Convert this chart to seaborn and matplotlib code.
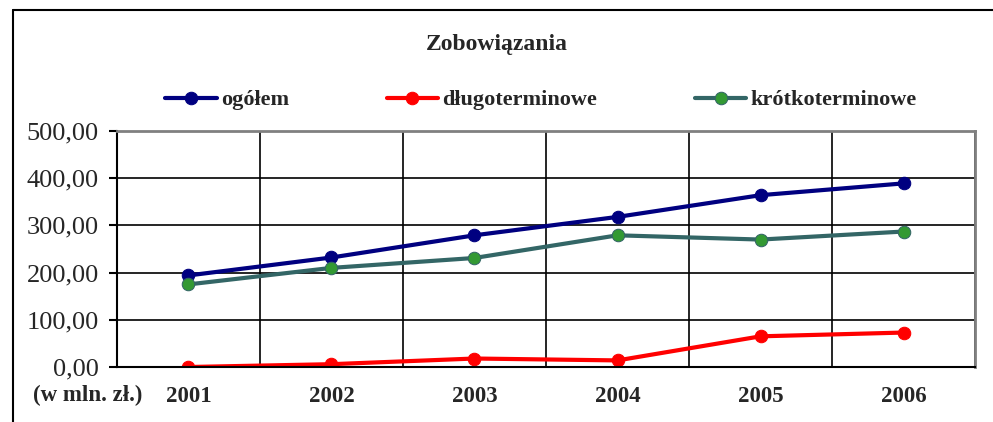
import pandas as pd
import numpy as np
import seaborn as sns
import matplotlib.pyplot as plt
from matplotlib.lines import Line2D
from matplotlib.ticker import FuncFormatter, FixedLocator

# dane: zobowiazania (w mln zl)
lata = ['2001', '2002', '2003', '2004', '2005', '2006']
ogolem = [194, 232, 279, 318, 364, 389]
dlugoterminowe = [0, 6, 18, 14, 65, 73]
krotkoterminowe = [175, 210, 231, 279, 270, 287]

df = pd.DataFrame({
    'rok': np.arange(len(lata)),
    'ogółem': ogolem,
    'długoterminowe': dlugoterminowe,
    'krótkoterminowe': krotkoterminowe,
})

sns.set_style('white')
plt.rcParams['font.family'] = ['Liberation Serif', 'DejaVu Serif']

fig = plt.figure(figsize=(9.93, 4.22), dpi=100)
ax = fig.add_axes([0.1178, 0.1303, 0.8641, 0.5593])

sns.lineplot(x='rok', y='ogółem', data=df, ax=ax, color='#000080', lw=3,
             marker='o', markersize=9, markeredgecolor='#000080', label='ogółem')
sns.lineplot(x='rok', y='długoterminowe', data=df, ax=ax, color='#FF0000', lw=3,
             marker='o', markersize=9, markeredgecolor='#FF0000', label='długoterminowe')
sns.lineplot(x='rok', y='krótkoterminowe', data=df, ax=ax, color='#336666', lw=3,
             marker='o', markersize=9, markerfacecolor='#339933',
             markeredgecolor='#336666', label='krótkoterminowe')

ax.set_xlim(-0.5, len(lata) - 0.5)
ax.set_ylim(0, 500)
ax.set_xlabel('')
ax.set_ylabel('')

# kategorie i granice
ax.set_xticks(np.arange(len(lata)))
ax.set_xticklabels(lata, fontweight='bold', fontsize=16.5)
ax.xaxis.set_minor_locator(FixedLocator(np.arange(-0.5, len(lata), 1.0)))
ax.tick_params(axis='x', which='major', length=0, pad=14)
ax.tick_params(axis='x', which='minor', length=7, width=1.5, color='black', direction='out')
ax.grid(True, axis='x', which='minor', color='black', lw=1.2)

ax.set_yticks(np.arange(0, 501, 100))
ax.yaxis.set_major_formatter(FuncFormatter(lambda v, p: f'{v:.2f}'.replace('.', ',')))
ax.tick_params(axis='y', length=6, width=1.5, color='black', direction='out',
               left=True, labelsize=19, pad=7)
ax.grid(True, axis='y', which='major', color='black', lw=1.2)
ax.set_axisbelow(True)

for s in ['left', 'bottom']:
    ax.spines[s].set_color('black')
    ax.spines[s].set_linewidth(1.5)
for s in ['top', 'right']:
    ax.spines[s].set_color('#808080')
    ax.spines[s].set_linewidth(2)

ax.text(-0.034, -0.12, '(w mln. zł.)', transform=ax.transAxes, ha='center', va='center',
        fontsize=16.5, fontweight='bold')

ax.get_legend().remove()
handles, labels = ax.get_legend_handles_labels()
fig.legend(handles, labels, ncol=3, loc='center', bbox_to_anchor=(0.545, 0.763),
           frameon=False, prop={'weight': 'bold', 'size': 16}, handlelength=2.3,
           handletextpad=0.2, columnspacing=4.4)

fig.text(0.5, 0.895, 'Zobowiązania', ha='center', va='center', fontsize=17, fontweight='bold')

# ramka wykresu
fig.add_artist(Line2D([13 / 993, 13 / 993], [0, 1 - 10 / 422], color='black', lw=1.5))
fig.add_artist(Line2D([13 / 993, 1], [1 - 10 / 422, 1 - 10 / 422], color='black', lw=1.5))

fig.savefig('out.png', dpi=100)
